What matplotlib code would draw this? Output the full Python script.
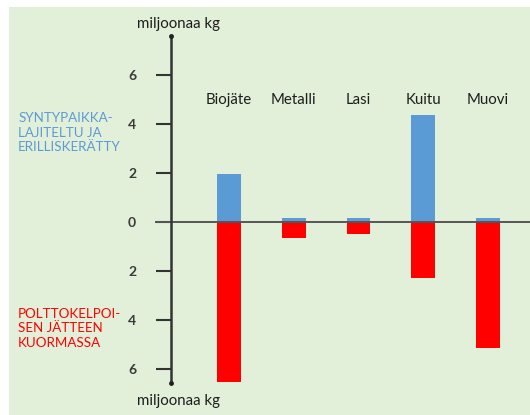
import matplotlib
matplotlib.use("Agg")
import matplotlib.pyplot as plt
import numpy as np

plt.rcParams['font.family'] = ['Lato', 'DejaVu Sans']

categories = ["Biojäte", "Metalli", "Lasi", "Kuitu", "Muovi"]
sorted_collected = [1.95, 0.16, 0.16, 4.36, 0.16]   # million kg, upward
in_mixed_waste = [6.53, 0.68, 0.50, 2.29, 5.17]     # million kg, downward
tick_values = [6, 4, 2, 0, 2, 4, 6]

BG = "#E2EFD9"
BLUE = "#5B9BD5"
RED = "#FF0000"

W, H = 530, 415
fig = plt.figure(figsize=(W / 100, H / 100), dpi=100)
fig.patch.set_facecolor("white")
x0, y0 = 9, 7
ax = fig.add_axes([x0 / W, 0, (W - x0) / W, (H - y0) / H])
ax.set_facecolor(BG)

x = np.arange(len(categories))
ax.set_xlim(-3.40, 4.65)
ax.set_ylim(-7.89, 8.76)

ax.bar(x, sorted_collected, width=0.37, color=BLUE, zorder=2)
ax.bar(x, [-v for v in in_mixed_waste], width=0.37, color=RED, zorder=2)

for i, c in enumerate(categories):
    ax.text(x[i], 4.95, c, ha="center", va="center", fontsize=10.8, color="#1E1E1E")

for s in ["top", "right", "bottom"]:
    ax.spines[s].set_visible(False)
axis_x = -0.90
ax.spines["left"].set_position(("data", axis_x))
ax.spines["left"].set_bounds(-6.57, 7.59)
ax.spines["left"].set_linewidth(1.8)
ax.spines["left"].set_color("#333333")
ax.spines["left"].set_zorder(3)
ax.set_xticks([])
ticks = [6, 4, 2, 0, -2, -4, -6]
ax.set_yticks(ticks)
ax.set_yticklabels([str(v) for v in tick_values], fontsize=10, fontweight="bold", color="#3A3A3A")
ax.tick_params(axis="y", direction="out", length=11, width=1.5, color="#333333", pad=14)

# zero line
ax.plot([-1.14, 4.65], [0, 0], color="#555555", lw=1.4, zorder=3, solid_capstyle="butt")
# arrow tips
ax.plot([axis_x, axis_x], [7.59, -6.57], "o", ms=2.5, color="#222222", zorder=4)

ax.text(-0.78, 8.05, "miljoonaa kg", ha="center", va="center", fontsize=10.8, color="#1E1E1E")
ax.text(-0.78, -7.32, "miljoonaa kg", ha="center", va="center", fontsize=10.8, color="#1E1E1E")

ax.text(-3.26, 3.62, "SYNTYPAIKKA-\nLAJITELTU JA\nERILLISKERÄTTY", ha="left", va="center",
        fontsize=9.6, color=BLUE, linespacing=1.25)
ax.text(-3.26, -4.34, "POLTTOKELPOI-\nSEN JÄTTEEN\nKUORMASSA", ha="left", va="center",
        fontsize=9.6, color=RED, linespacing=1.25)

fig.savefig("out.png", dpi=100, facecolor=fig.get_facecolor())
